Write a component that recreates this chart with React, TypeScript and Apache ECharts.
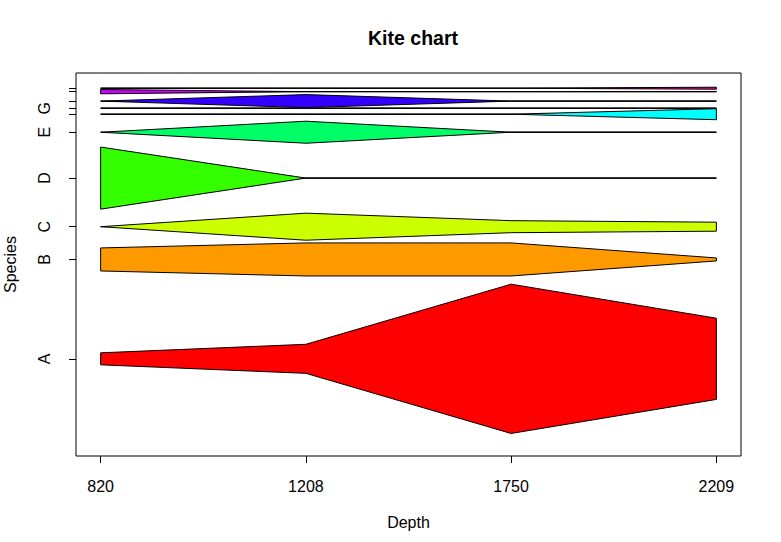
import React, { useEffect, useRef } from 'react';
import * as echarts from 'echarts';

// depth labels (evenly spaced sample positions)
const depths = ['820', '1208', '1750', '2209'];
const species = ['A', 'B', 'C', 'D', 'E', 'F', 'G', 'H', 'I', 'J'];
// labels R managed to print on the y axis (the others were dropped for overlap)
const shownLabels = ['A', 'B', 'C', 'D', 'E', 'G'];
const colors = ['#FF0000', '#FF9900', '#CCFF00', '#33FF00', '#00FF66', '#00FFFF', '#0066FF', '#3300FF', '#CC00FF', '#FF0099'];

// kite widths per species at each depth
const widthA = [12, 29, 149, 81];
const widthB = [23, 33, 33, 3];
const widthC = [0, 27, 12, 9];
const widthD = [62, 0, 0, 0];
const widthE = [0, 22, 0, 0];
const widthF = [0, 0, 0, 11];
const widthG = [0, 0, 0, 0];
const widthH = [0, 13, 0, 0];
const widthI = [4.3, 0, 0, 0];
const widthJ = [0, 0, 0, 2];
const widths = [widthA, widthB, widthC, widthD, widthE, widthF, widthG, widthH, widthI, widthJ];

const FONT = '"Liberation Sans", Arial, sans-serif';
const SLOT = 1.09; // each species gets a band a bit wider than its biggest kite

export default function App() {
  const ref = useRef<HTMLDivElement | null>(null);

  useEffect(() => {
    document.body.style.margin = '0';
    if (!ref.current) return;
    const chart = echarts.init(ref.current, null, { renderer: 'svg' });

    const maxes = widths.map(r => Math.max(...r));
    let acc = 0;
    const baselines = maxes.map(m => {
      const b = acc + (m * SLOT) / 2;
      acc += m * SLOT;
      return b;
    });
    const total = acc;
    const yPad = total * 0.04;
    const xPad = (depths.length - 1) * 0.04;
    const xs = depths.map((_, i) => i + 1);

    const labelAt = (v: number) => {
      const i = baselines.findIndex(b => Math.abs(b - v) < 1e-6);
      return i >= 0 ? species[i] : '';
    };

    chart.setOption({
      animation: false,
      title: {
        text: 'Kite chart', left: 408, top: 23, textAlign: 'center',
        textStyle: { fontSize: 19.5, fontWeight: 'bold', fontFamily: FONT, color: '#000' }
      },
      grid: {
        left: 76, right: 40, top: 73, bottom: 86, show: true, borderColor: '#000', borderWidth: 1,
        containLabel: false, outerBoundsMode: 'none'
      },
      xAxis: {
        type: 'value', min: 1 - xPad, max: depths.length + xPad,
        name: 'Depth', nameLocation: 'middle', nameGap: 58,
        nameTextStyle: { fontSize: 16, fontFamily: FONT, color: '#000' },
        axisLine: { show: false, onZero: false },
        splitLine: { show: false },
        axisTick: { show: true, customValues: xs, length: 7, lineStyle: { color: '#000' } },
        axisLabel: {
          customValues: xs, margin: 22, fontSize: 16, fontFamily: FONT, color: '#000',
          formatter: (v: number) => depths[Math.round(v) - 1] ?? ''
        }
      },
      yAxis: {
        type: 'value', min: -yPad * 1.12, max: total + yPad,
        name: 'Species', nameLocation: 'middle', nameGap: 58,
        nameTextStyle: { fontSize: 16, fontFamily: FONT, color: '#000' },
        axisLine: { show: false, onZero: false },
        splitLine: { show: false },
        axisTick: { show: true, customValues: baselines, length: 7, lineStyle: { color: '#000' } },
        axisLabel: {
          customValues: baselines.filter((_, i) => shownLabels.includes(species[i])),
          rotate: 90, margin: 24, fontSize: 16, fontFamily: FONT, color: '#000',
          formatter: (v: number) => labelAt(v)
        }
      },
      series: [{
        type: 'custom',
        coordinateSystem: 'cartesian2d',
        data: species.map((_, i) => [1, baselines[i]]),
        renderItem: (params: any, api: any) => {
          const i = params.dataIndex;
          const base = baselines[i];
          const w = widths[i];
          const top = xs.map((x, j) => api.coord([x, base + w[j] / 2]));
          const bottom = xs.map((x, j) => api.coord([x, base - w[j] / 2])).reverse();
          const left = api.coord([xs[0], base]);
          const right = api.coord([xs[xs.length - 1], base]);
          return {
            type: 'group',
            children: [
              {
                type: 'line',
                shape: { x1: left[0], y1: left[1], x2: right[0], y2: right[1] },
                style: { stroke: '#000', lineWidth: 1 }
              },
              {
                type: 'polygon',
                shape: { points: top.concat(bottom) },
                style: { fill: colors[i], stroke: '#000', lineWidth: 1 }
              }
            ]
          };
        }
      }]
    });

    return () => { chart.dispose(); };
  }, []);

  return <div ref={ref} style={{ width: 781, height: 542 }} />;
}
